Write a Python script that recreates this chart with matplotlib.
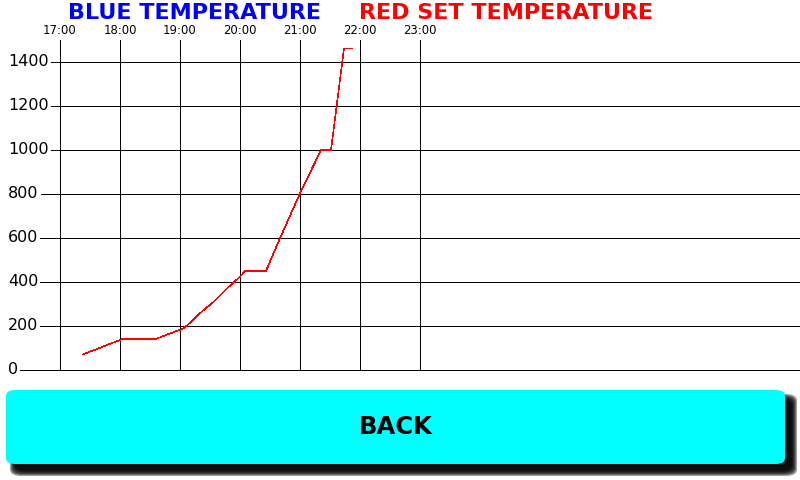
import matplotlib
matplotlib.use("Agg")
import matplotlib.pyplot as plt
from matplotlib.patches import FancyBboxPatch
import matplotlib.transforms as mtransforms

# ---- data ----
times = ["17:23", "18:02", "18:35", "19:04", "19:23", "19:34", "19:47", "20:00",
         "20:05", "20:26", "20:40", "21:00", "21:21", "21:31", "21:44", "21:52"]
temps = [71, 140, 140, 190, 270, 311, 371, 424,
         450, 450, 599, 803, 1000, 1000, 1462, 1462]
hour_labels = ["17:00", "18:00", "19:00", "20:00", "21:00", "22:00", "23:00"]
y_ticks = [0, 200, 400, 600, 800, 1000, 1200, 1400]
title_blue = "BLUE TEMPERATURE"
title_red = "RED SET TEMPERATURE"
button_text = "BACK"

def to_hours(s):
    h, m = s.split(":")
    return int(h) + int(m) / 60.0

xs = [to_hours(t) for t in times]
hours = [to_hours(h) for h in hour_labels]

W, H = 800, 480
fig = plt.figure(figsize=(W / 100, H / 100), dpi=100)
fig.patch.set_facecolor("white")

# axes: full width, bottom at y=370px, top at y=40px
ax = fig.add_axes([0, (H - 370) / H, 1, 330 / H])
ax.set_axis_off()
x0 = hours[0] - 60 / 60.0          # px 0
x1 = hours[0] + (W - 60) / 60.0    # px 800
ax.set_xlim(x0, x1)
ax.set_ylim(0, 1500)

lw = 0.5
# vertical hour lines
for hx in hours:
    ax.plot([hx, hx], [0, 1500], color="black", lw=lw, antialiased=False,
            solid_capstyle="butt", zorder=2)

# x labels above axes
trans_top = mtransforms.blended_transform_factory(ax.transData, fig.transFigure)
for hx, lab in zip(hours, hour_labels):
    ax.text(hx, (H - 30) / H, lab, transform=trans_top, ha="center", va="center",
            fontsize=8.4, color="black", family="DejaVu Sans")

# y labels at the left edge
trans_left = mtransforms.blended_transform_factory(fig.transFigure, ax.transData)
ylabels = []
for yv in y_ticks:
    t = ax.text(8 / W, yv, str(yv), transform=trans_left, ha="left", va="center",
                fontsize=11.5, color="black", family="DejaVu Sans")
    ylabels.append(t)

fig.canvas.draw()
renderer = fig.canvas.get_renderer()
inv = ax.transData.inverted()
for yv, t in zip(y_ticks, ylabels):
    bb = t.get_window_extent(renderer)
    xstart = inv.transform((bb.x1 + 2, 0))[0]
    ax.plot([xstart, x1], [yv, yv], color="black", lw=lw, antialiased=False,
            solid_capstyle="butt", zorder=2, clip_on=False)

# data line
ax.plot(xs, temps, color="red", lw=0.4, antialiased=False, zorder=3)

# titles
fig.text(68 / W, (H - 13) / H, title_blue, color="#0000ff", fontsize=16,
         fontweight="bold", ha="left", va="center", family="DejaVu Sans")
fig.text(359 / W, (H - 13) / H, title_red, color="#ff0000", fontsize=16,
         fontweight="bold", ha="left", va="center", family="DejaVu Sans")

# button with soft shadow
bx, by, bw, bh = 6, 390, 779, 74  # px, top-left origin
def px_rect(x, y, w, h):
    return (x / W, (H - y - h) / H, w / W, h / H)

n = 8
for i in range(n):
    grow = (n - 1 - i) * 0.8 - 1.5
    rx, ry, rw, rh = px_rect(bx + 8 - grow, by + 8 - grow, bw + 2 * grow, bh + 2 * grow)
    fig.patches.append(FancyBboxPatch((rx, ry), rw, rh,
                                      boxstyle="round,pad=0,rounding_size=0.014",
                                      transform=fig.transFigure, facecolor="black",
                                      edgecolor="none", alpha=0.3, zorder=1))
rx, ry, rw, rh = px_rect(bx, by, bw, bh)
fig.patches.append(FancyBboxPatch((rx, ry), rw, rh,
                                  boxstyle="round,pad=0,rounding_size=0.012",
                                  transform=fig.transFigure, facecolor="#00ffff",
                                  edgecolor="none", zorder=2))
fig.text((bx + bw / 2) / W, (H - 427) / H, button_text, fontsize=17.5,
         fontweight="bold", ha="center", va="center", color="black",
         family="DejaVu Sans")

fig.savefig("out.png", dpi=100)
